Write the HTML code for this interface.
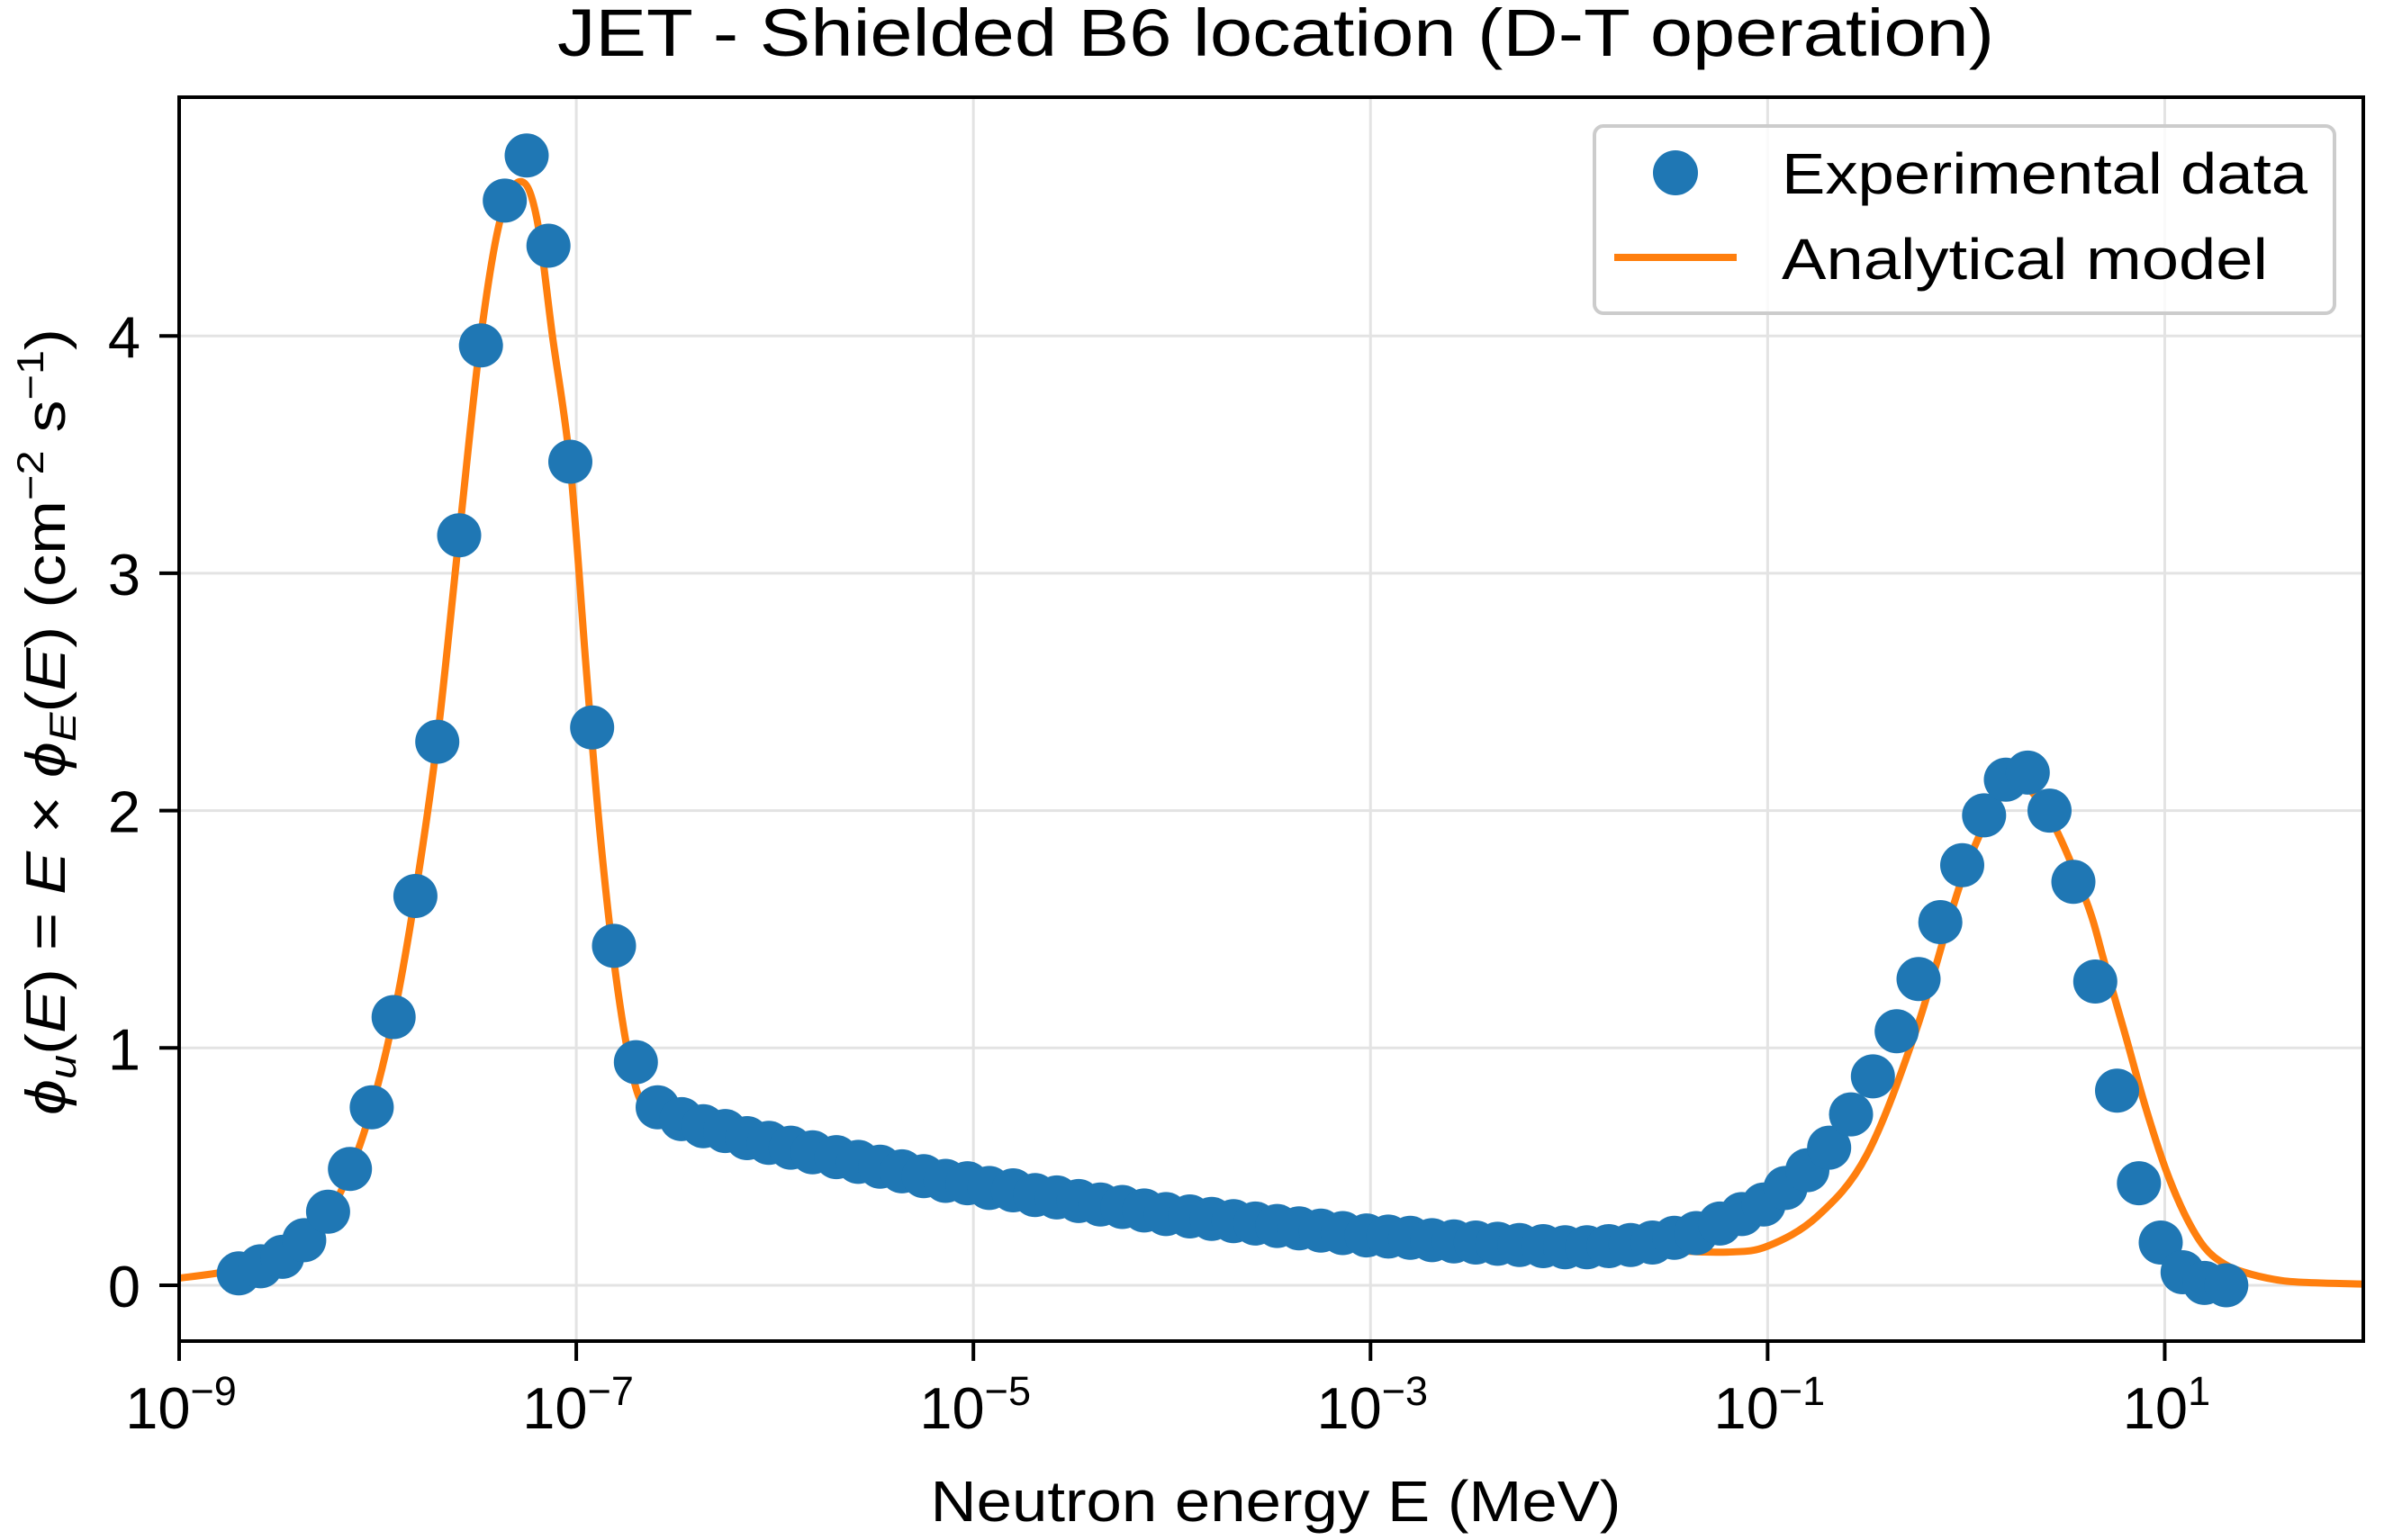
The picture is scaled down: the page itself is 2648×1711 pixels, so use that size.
<!DOCTYPE html>
<html><head><meta charset="utf-8"><style>
html,body{margin:0;padding:0;background:#fff;}
svg{display:block;}
text{font-family:"Liberation Sans","DejaVu Sans",sans-serif;fill:#000;}
</style></head><body>
<svg id="chart" width="2648" height="1711" viewBox="0 0 2648 1711">
<text x="1417" y="62" font-size="74" text-anchor="middle" textLength="1596" lengthAdjust="spacingAndGlyphs">JET - Shielded B6 location (D-T operation)</text>
<g id="grid"></g>
<g id="curve"></g>
<g id="points"></g>
<g id="axes"></g>
<text x="1417" y="1690" font-size="64" text-anchor="middle" textLength="767" lengthAdjust="spacingAndGlyphs">Neutron energy E (MeV)</text>
<text transform="translate(72,802) rotate(-90)" font-size="62" text-anchor="middle" textLength="874" lengthAdjust="spacingAndGlyphs"><tspan font-style="italic">ϕ</tspan><tspan font-size="42" dy="12" font-style="italic">u</tspan><tspan dy="-12">(</tspan><tspan font-style="italic">E</tspan>) = <tspan font-style="italic">E</tspan> × <tspan font-style="italic">ϕ</tspan><tspan font-size="42" dy="12" font-style="italic">E</tspan><tspan dy="-12">(</tspan><tspan font-style="italic">E</tspan>) (cm<tspan font-size="42" dy="-24">−2</tspan><tspan dy="24"> s</tspan><tspan font-size="42" dy="-24">−1</tspan><tspan dy="24">)</tspan></text>
<g>
<rect x="1771" y="140" width="822" height="208" rx="10" fill="#fff" fill-opacity="0.8" stroke="#cccccc" stroke-width="4"/>
<ellipse cx="1861" cy="192" rx="25" ry="25" fill="#1f77b4"/>
<text x="1979" y="215" font-size="64" textLength="584" lengthAdjust="spacingAndGlyphs">Experimental data</text>
<line x1="1793" y1="286" x2="1929" y2="286" stroke="#ff7f0e" stroke-width="8"/>
<text x="1979" y="310" font-size="64" textLength="540" lengthAdjust="spacingAndGlyphs">Analytical model</text>
</g>
</svg>
<script>
const xTickExps = [-9, -7, -5, -3, -1, 1];
const xGridExps = [-9, -7, -5, -3, -1, 1];
const yTicks = [0, 1, 2, 3, 4];
const expLogE = [-8.70,-8.59,-8.48,-8.37,-8.25,-8.14,-8.03,-7.92,-7.81,-7.70,-7.59,-7.48,-7.36,-7.25,-7.14,-7.03,-6.92,-6.81,-6.70,-6.59,-6.47,-6.36,-6.25,-6.14,-6.03,-5.92,-5.81,-5.69,-5.58,-5.47,-5.36,-5.25,-5.14,-5.03,-4.92,-4.80,-4.69,-4.58,-4.47,-4.36,-4.25,-4.14,-4.03,-3.91,-3.80,-3.69,-3.58,-3.47,-3.36,-3.25,-3.14,-3.02,-2.91,-2.80,-2.69,-2.58,-2.47,-2.36,-2.25,-2.13,-2.02,-1.91,-1.80,-1.69,-1.58,-1.47,-1.36,-1.24,-1.13,-1.02,-0.91,-0.80,-0.69,-0.58,-0.47,-0.35,-0.24,-0.13,-0.02,0.09,0.20,0.31,0.42,0.54,0.65,0.76,0.87,0.98,1.09,1.20,1.31];
const expFlux = [0.05,0.08,0.12,0.19,0.31,0.49,0.75,1.13,1.64,2.29,3.16,3.96,4.57,4.76,4.38,3.47,2.35,1.43,0.94,0.75,0.70,0.67,0.65,0.62,0.60,0.58,0.56,0.54,0.52,0.50,0.48,0.46,0.44,0.43,0.41,0.40,0.38,0.37,0.355,0.34,0.33,0.315,0.30,0.29,0.28,0.27,0.26,0.25,0.24,0.23,0.22,0.21,0.205,0.20,0.19,0.185,0.18,0.175,0.17,0.165,0.16,0.16,0.165,0.17,0.18,0.20,0.22,0.26,0.30,0.34,0.41,0.485,0.58,0.72,0.88,1.07,1.29,1.53,1.77,1.98,2.13,2.16,2.00,1.70,1.28,0.82,0.43,0.18,0.055,0.01,0.0];
const modelLogE = [-9.0,-8.75,-8.5,-8.37,-8.25,-8.14,-8.03,-7.92,-7.81,-7.70,-7.59,-7.48,-7.38,-7.28,-7.2,-7.12,-7.03,-6.95,-6.88,-6.8,-6.72,-6.65,-6.55,-6.0,-5.0,-4.0,-3.0,-2.0,-1.5,-1.2,-1.0,-0.75,-0.5,-0.25,0.0,0.22,0.4,0.6,0.7,0.8,0.9,1.0,1.1,1.2,1.3,1.4,1.55,1.7,2.0];
const modelFlux = [0.03,0.06,0.12,0.19,0.30,0.48,0.75,1.13,1.65,2.3,3.16,4.0,4.5,4.65,4.5,4.0,3.45,2.6,1.9,1.3,0.9,0.74,0.69,0.60,0.45,0.34,0.253,0.176,0.148,0.14,0.165,0.29,0.55,1.08,1.76,2.10,2.0,1.63,1.35,1.06,0.76,0.5,0.3,0.16,0.09,0.055,0.025,0.012,0.005];

const L=199,R=2625,T=108,B=1490;
const xOf = e => L + (e + 9) / 11 * (R - L);
const y0 = 1428, yUnit = 263.7;
const yOf = v => y0 - v * yUnit;
const NS = 'http://www.w3.org/2000/svg';
function mk(tag, attrs, parent){const el=document.createElementNS(NS,tag);for(const k in attrs)el.setAttribute(k,attrs[k]);parent.appendChild(el);return el;}
const grid=document.getElementById('grid'), axes=document.getElementById('axes');
const curveG=document.getElementById('curve'), ptsG=document.getElementById('points');

xGridExps.forEach(e=>{
  const l=mk('line',{x1:xOf(e),x2:xOf(e),y1:T,y2:B,stroke:'#e3e3e3','stroke-width':3},grid);
  
  
});
yTicks.forEach(v=>{
  const l=mk('line',{x1:L,x2:R,y1:yOf(v),y2:yOf(v),stroke:'#e3e3e3','stroke-width':3},grid);
  
  
});

// smooth curve (Catmull-Rom)
const P = modelLogE.map((e,i)=>[xOf(e), yOf(modelFlux[i])]);
let d='M'+P[0][0].toFixed(1)+','+P[0][1].toFixed(1);
for(let i=0;i<P.length-1;i++){
  const p0=P[Math.max(0,i-1)],p1=P[i],p2=P[i+1],p3=P[Math.min(P.length-1,i+2)];
  const c1=[p1[0]+(p2[0]-p0[0])/6, p1[1]+(p2[1]-p0[1])/6];
  const c2=[p2[0]-(p3[0]-p1[0])/6, p2[1]-(p3[1]-p1[1])/6];
  d+='C'+c1[0].toFixed(1)+','+c1[1].toFixed(1)+' '+c2[0].toFixed(1)+','+c2[1].toFixed(1)+' '+p2[0].toFixed(1)+','+p2[1].toFixed(1);
}
const path=mk('path',{d:d,fill:'none',stroke:'#ff7f0e','stroke-width':8,'stroke-linejoin':'round','stroke-linecap':'round'},curveG);


const defs=mk('defs',{},document.getElementById('chart'));
const cp=mk('clipPath',{id:'clip'},defs);
mk('rect',{x:L,y:T,width:R-L,height:B-T},cp);
curveG.setAttribute('clip-path','url(#clip)');

expLogE.forEach((e,i)=>{
  const c=mk('circle',{cx:xOf(e).toFixed(1),cy:yOf(expFlux[i]).toFixed(1),r:24.5,fill:'#1f77b4'},ptsG);
  
  
});

const fr=mk('rect',{x:L,y:T,width:R-L,height:B-T,fill:'none',stroke:'#000','stroke-width':4},axes);



xTickExps.forEach(e=>{
  const x=xOf(e);
  const t=mk('line',{x1:x,x2:x,y1:B,y2:B+22,stroke:'#000','stroke-width':4},axes);
  
  
  const tx=mk('text',{x:x+2,y:1587,'font-size':65,'text-anchor':'middle'},axes);
  
  
  const b=document.createElementNS(NS,'tspan');b.textContent='10';tx.appendChild(b);
  const s=document.createElementNS(NS,'tspan');s.setAttribute('font-size','45');s.setAttribute('dy','-26');
  s.textContent=(e<0?'\u2212':'')+Math.abs(e);tx.appendChild(s);
});
yTicks.forEach(v=>{
  const y=yOf(v);
  const t=mk('line',{x1:L-22,x2:L,y1:y,y2:y,stroke:'#000','stroke-width':4},axes);
  
  
  const tx=mk('text',{x:156,y:y+24,'font-size':65,'text-anchor':'end'},axes);
  
  
  tx.textContent=String(v);
});
</script>
</body></html>
